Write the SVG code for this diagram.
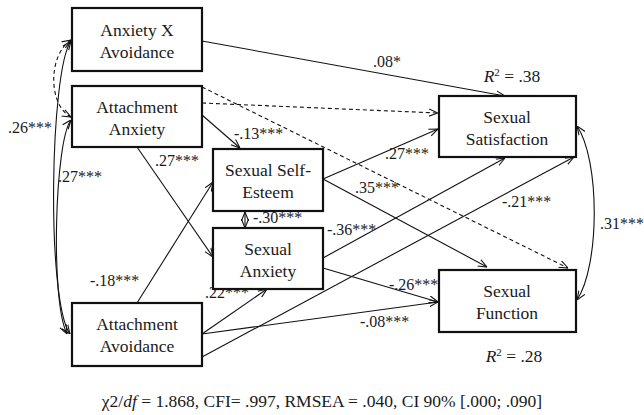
<svg xmlns="http://www.w3.org/2000/svg" width="644" height="415" viewBox="0 0 644 415">
<style>
.box{fill:#fff;stroke:#111;stroke-width:2.2}
.t{font-family:"Liberation Serif","Times New Roman",serif;font-size:17.5px;fill:#1a1a1a;text-anchor:middle}
.l{font-family:"Liberation Serif","Times New Roman",serif;font-size:16px;fill:#1a1a1a}
.c{fill:none;stroke:#111;stroke-width:1.1}
.d{stroke-dasharray:4 3}
</style>
<defs>
<marker id="a" viewBox="0 0 10 10" refX="10" refY="5" markerWidth="9" markerHeight="9" markerUnits="userSpaceOnUse" orient="auto-start-reverse">
<path d="M0,1 L10,5 L0,9" fill="none" stroke="#111" stroke-width="1.2"/>
</marker>
</defs>
<rect width="644" height="415" fill="#fff"/>
<g id="connectors">
<path class="c" d="M202,41 L505,96" marker-end="url(#a)"/>
<path class="c d" d="M202,103 L438,113" marker-end="url(#a)"/>
<path class="c d" d="M202,87 L568,268" marker-end="url(#a)"/>
<path class="c" d="M202,115 L240,148" marker-end="url(#a)"/>
<path class="c" d="M137,147 L213,257" marker-end="url(#a)"/>
<path class="c" d="M137,303 L213,182" marker-end="url(#a)"/>
<path class="c" d="M202,334 L267,289" marker-end="url(#a)"/>
<path class="c" d="M202,357 L574,157" marker-end="url(#a)"/>
<path class="c" d="M202,334 L438,302" marker-end="url(#a)"/>
<path class="c" d="M323,179 L438,129" marker-end="url(#a)"/>
<path class="c" d="M323,258 L505,158" marker-end="url(#a)"/>
<path class="c" d="M323,179 L487,267" marker-end="url(#a)"/>
<path class="c" d="M323,268 L438,302" marker-end="url(#a)"/>
<path class="c" d="M245,212 L245,228" marker-start="url(#a)" marker-end="url(#a)"/>
<path class="c" d="M71,41 C50,70 46,300 70,334" marker-start="url(#a)" marker-end="url(#a)"/>
<path class="c" d="M71,120 C55,140 50,300 67,334" marker-start="url(#a)" marker-end="url(#a)"/>
<path class="c d" d="M71,40 C48,55 48,105 71,117" marker-start="url(#a)" marker-end="url(#a)"/>
<path class="c" d="M577,126 C600,160 600,265 577,300" marker-start="url(#a)" marker-end="url(#a)"/>
</g>
<g id="labels">
<text class="l" x="373" y="67">.08*</text>
<text class="l" x="234" y="139">-.13***</text>
<text class="l" x="155" y="166">.27***</text>
<text class="l" x="8" y="133">.26***</text>
<text class="l" x="58" y="182">.27***</text>
<text class="l" x="90" y="286">-.18***</text>
<text class="l" x="205" y="298">.22***</text>
<text class="l" x="385" y="159">.27***</text>
<text class="l" x="355" y="193">.35***</text>
<text class="l" x="327" y="235">-.36***</text>
<text class="l" x="253" y="223">-.30***</text>
<text class="l" x="389" y="290">-.26***</text>
<text class="l" x="360" y="327">-.08***</text>
<text class="l" x="502" y="207">-.21***</text>
<text class="l" x="600" y="229">.31***</text>
<text class="t" x="512" y="82"><tspan font-style="italic">R</tspan><tspan font-size="11" dy="-6">2</tspan><tspan dy="6"> = .38</tspan></text>
<text class="t" x="514" y="362"><tspan font-style="italic">R</tspan><tspan font-size="11" dy="-6">2</tspan><tspan dy="6"> = .28</tspan></text>
<text class="t" x="322" y="407" font-size="16.5">χ2/<tspan font-style="italic">df</tspan> = 1.868, CFI= .997, RMSEA = .040, CI 90% [.000; .090]</text>
</g>
<g id="n-anxav"><rect class="box" x="72" y="8" width="130" height="63"/><text class="t" x="137" y="36">Anxiety X</text><text class="t" x="137" y="58">Avoidance</text></g>
<g id="n-attanx"><rect class="box" x="72" y="86" width="130" height="61"/><text class="t" x="137" y="113">Attachment</text><text class="t" x="137" y="135">Anxiety</text></g>
<g id="n-attav"><rect class="box" x="72" y="303" width="130" height="63"/><text class="t" x="137" y="330">Attachment</text><text class="t" x="137" y="352">Avoidance</text></g>
<g id="n-sse"><rect class="box" x="213" y="149" width="110" height="62"/><text class="t" x="268" y="176">Sexual Self-</text><text class="t" x="268" y="198">Esteem</text></g>
<g id="n-sanx"><rect class="box" x="213" y="228" width="110" height="61"/><text class="t" x="268" y="255">Sexual</text><text class="t" x="268" y="277">Anxiety</text></g>
<g id="n-ssat"><rect class="box" x="439" y="96" width="137" height="61"/><text class="t" x="507" y="123">Sexual</text><text class="t" x="507" y="145">Satisfaction</text></g>
<g id="n-sfun"><rect class="box" x="439" y="270" width="137" height="62"/><text class="t" x="507" y="297">Sexual</text><text class="t" x="507" y="319">Function</text></g>
</svg>
